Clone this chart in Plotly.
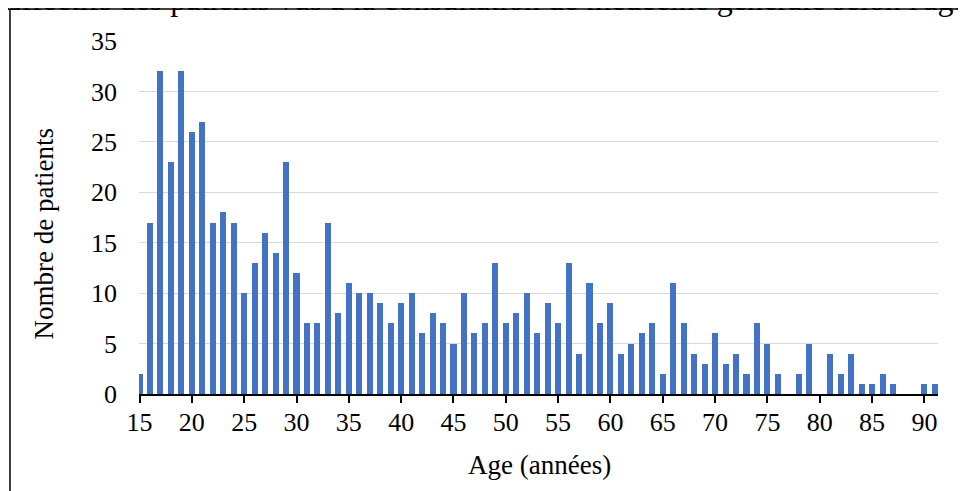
import plotly.graph_objects as go

ages = list(range(15, 92))
patients = [2, 17, 32, 23, 32, 26, 27, 17, 18, 17,   # 15-24
            10, 13, 16, 14, 23, 12, 7, 7, 17, 8,      # 25-34
            11, 10, 10, 9, 7, 9, 10, 6, 8, 7,         # 35-44
            5, 10, 6, 7, 13, 7, 8, 10, 6, 9,          # 45-54
            7, 13, 4, 11, 7, 9, 4, 5, 6, 7,           # 55-64
            2, 11, 7, 4, 3, 6, 3, 4, 2, 7,            # 65-74
            5, 2, 0, 2, 5, 0, 4, 2, 4, 1,             # 75-84
            1, 2, 1, 0, 0, 1, 1]                      # 85-91
x_ticks = list(range(15, 95, 5))
y_ticks = list(range(0, 40, 5))

title_text = "Effectifs des patients vus à la consultation de médecine générale selon l'âge"
x_title = "Age (années)"
y_title = "Nombre de patients"

FONT = "Liberation Serif, Times New Roman, serif"
OFF = 8                      # page body margin offset
PW, PH = 966, 491            # page size
W, H = PW - OFF, PH - OFF    # figure size
# plot area in page coords
PL, PR, PT, PB = 139, 938, 41, 394
L, R, T, B = PL - OFF, W - (PR - OFF), PT - OFF, H - (PB - OFF)

fig = go.Figure(go.Bar(x=ages, y=patients, width=0.58,
                       marker=dict(color="#4472C4", line=dict(width=0))))

fig.update_layout(
    width=W, height=H,
    margin=dict(l=L, r=R, t=T, b=B, autoexpand=False),
    paper_bgcolor="white", plot_bgcolor="white",
    font=dict(family=FONT, size=26, color="black"),
    showlegend=False,
    bargap=0,
)
fig.update_xaxes(range=[14.95, 91.3], tickvals=x_ticks, ticks="outside", ticklen=7,
                 tickwidth=1.5, tickcolor="black", showline=True, linecolor="black",
                 linewidth=1.5, showgrid=False, zeroline=False,
                 ticklabelstandoff=-3, tickfont=dict(size=26))
fig.update_yaxes(range=[0, 35], tickvals=y_ticks, showgrid=True, gridcolor="#D9D9D9",
                 gridwidth=1, zeroline=False, showline=False, ticks="",
                 ticklabelstandoff=21, tickfont=dict(size=26))

pw = W - L - R
ph = H - T - B
def px(xpage):
    return (xpage - OFF - L) / pw
def py(ypage):
    return (H - B - (ypage - OFF)) / ph

# frame
fig.add_shape(type="line", xref="paper", yref="paper", x0=px(10), x1=px(10),
              y0=py(9), y1=py(PH + 20), line=dict(color="black", width=1.5))
fig.add_shape(type="line", xref="paper", yref="paper", x0=px(10), x1=px(PW + 20),
              y0=py(9), y1=py(9), line=dict(color="black", width=1.5))

fig.add_annotation(text=title_text, xref="paper", yref="paper", x=px(485), y=py(19),
                   xanchor="center", yanchor="bottom", showarrow=False,
                   font=dict(size=32, family=FONT))
fig.add_annotation(text=x_title, xref="paper", yref="paper", x=px(539), y=py(482),
                   xanchor="center", yanchor="bottom", showarrow=False,
                   font=dict(size=27, family=FONT))
fig.add_annotation(text=y_title, xref="paper", yref="paper", x=px(43), y=py(234.5),
                   xanchor="center", yanchor="middle", showarrow=False, textangle=-90,
                   font=dict(size=27, family=FONT))

fig.write_html("out.html")
